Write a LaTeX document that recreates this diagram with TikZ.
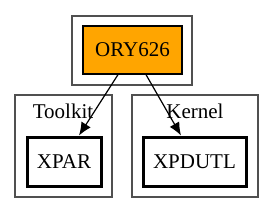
\documentclass[tikz,border=0pt]{standalone}
\usepackage{fontspec}
\setmainfont{Liberation Serif}
\usetikzlibrary{arrows.meta}
\definecolor{orangefill}{HTML}{FFA500}
\definecolor{clustergray}{HTML}{505050}
\tikzset{
  cluster/.style={draw=clustergray,line width=1.5pt},
  nodebox/.style={draw=black,rectangle,inner sep=0pt,font=\fontsize{21}{25}\selectfont},
  thinbox/.style={nodebox,line width=1.3pt},
  thickbox/.style={nodebox,line width=3pt},
  clabel/.style={font=\fontsize{21}{25}\selectfont,inner sep=0pt},
  edge/.style={draw=black,line width=1.2pt,-{Latex[length=13pt,width=11pt]}}
}
\begin{document}
\begin{tikzpicture}[x=1pt,y=-1pt]
\useasboundingbox (0,0) rectangle (273,212);
\draw[cluster] (72,16) rectangle (192,85);
\draw[cluster] (15,95) rectangle (112,197);
\draw[cluster] (132,95) rectangle (258,197);
\node[clabel] (lt) at (63,111) {Toolkit};
\node[clabel] (lk) at (195,111) {Kernel};
\node[thinbox,fill=orangefill,minimum width=99pt,minimum height=48pt] (o) at (132.5,50) {ORY626};
\node[thickbox,minimum width=74pt,minimum height=49pt] (x) at (64,161.5) {XPAR};
\node[thickbox,minimum width=103pt,minimum height=49pt] (u) at (194.5,161.5) {XPDUTL};
\draw[edge] (o.south -| 118,0) -- (x.north -| 79,0);
\draw[edge] (o.south -| 146,0) -- (u.north -| 181,0);
\end{tikzpicture}
\end{document}
